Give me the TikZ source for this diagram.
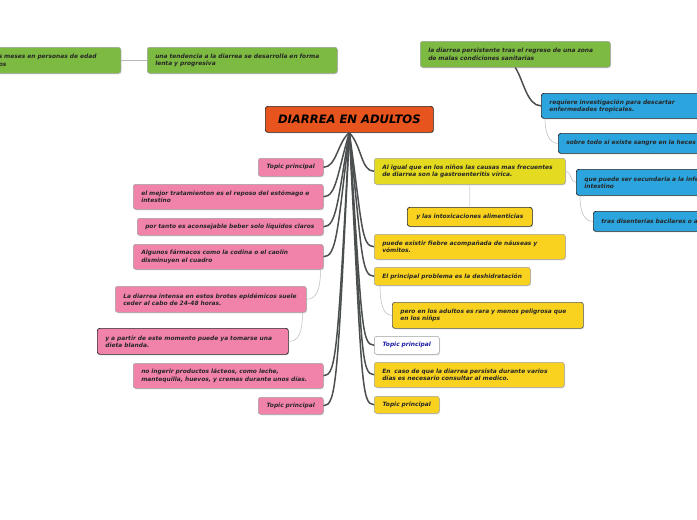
\documentclass[tikz,border=0pt]{standalone}
\usepackage{fontspec}
\newfontfamily\fnt{DejaVu Sans Bold Oblique}
\usetikzlibrary{calc,shadows}
\definecolor{naranja}{HTML}{E8541E}
\definecolor{rosa}{HTML}{F183AB}
\definecolor{amarillo}{HTML}{F8D21E}
\definecolor{limon}{HTML}{E4DA1F}
\definecolor{verde}{HTML}{7DBA41}
\definecolor{azul}{HTML}{2CA5DF}
\definecolor{gris}{HTML}{4B4F4F}
\definecolor{tinta}{HTML}{1A1AA6}

\begin{document}
\begin{tikzpicture}[x=1pt, y=-1pt,
    caja/.style={draw=gray!75, line width=0.5pt, rounded corners=2.5pt, anchor=north west,
      align=left, inner xsep=8pt, inner ysep=1pt, text=black!85,
      font=\fnt\fontsize{5.9}{7.1}\selectfont,
      drop shadow={opacity=0.25, shadow xshift=0.8pt, shadow yshift=-1pt}},
    topico/.style={align=center, inner xsep=4pt, text width=57pt},
    negra/.style={draw=black!85, line width=0.7pt},
    rama/.style={draw=gris, line width=1.5pt},
    sub/.style={draw=gray!55, line width=0.5pt}]
    % fondo
    \path[fill=white](0,0)rectangle(697,520);
    \useasboundingbox(0,0)rectangle(697,520);
    % centro
    \node[caja, negra, fill=naranja, align=center, text width=152pt, minimum height=26pt,
      font=\fnt\fontsize{11.6}{13}\selectfont, text=black](tema)at(265,106){DIARREA EN ADULTOS};
    % verdes arriba
    \node[caja, fill=verde, anchor=north east, text width=114pt, minimum height=26pt](gizq)at(121,47)
      {s meses en personas de edad\\os};
    \node[caja, fill=verde, text width=174pt, minimum height=26pt](gcen)at(147,47)
      {una tendencia a la diarrea se desarrolla en forma\\lenta y progresiva};
    \node[caja, fill=verde, text width=174pt, minimum height=26pt](gder)at(420,41)
      {la diarrea persistente tras el regreso de una zona\\de malas condiciones sanitarias};
    % azules
    \node[caja, negra, fill=azul, text width=184pt, minimum height=25pt](az1)at(541,93)
      {requiere investigación para descartar\\enfermedades tropicales.};
    \node[caja, negra, fill=azul, text width=184pt, minimum height=20pt](az2)at(558,133)
      {sobre todo si existe sangre en la heces};
    \node[caja, negra, fill=azul, text width=184pt, minimum height=26pt](az3)at(576,169)
      {que puede ser secundaria a la infe\\intestino};
    \node[caja, negra, fill=azul, text width=184pt, minimum height=20pt](az4)at(593,211)
      {tras disenterías bacilares o a};
    % amarillas
    \node[caja, fill=limon, text width=175pt, minimum height=26pt](am1)at(374,158)
      {Al igual que en los niños las causas mas frecuentes\\de diarrea son la gastroenteritis vírica.};
    \node[caja, negra, fill=amarillo, align=center, text width=109pt, minimum height=19pt](am2)at(407,207)
      {y las intoxicaciones alimenticias};
    \node[caja, fill=amarillo, text width=175pt, minimum height=25pt](am3)at(374,234)
      {puede existir fiebre acompañada de náuseas y\\vómitos.};
    \node[caja, fill=amarillo, text width=140pt, minimum height=18pt](am4)at(374,267)
      {El principal problema es la deshidratación};
    \node[caja, draw=black!65, line width=0.7pt, fill=amarillo, text width=175pt, minimum height=26pt](am5)at(392,302)
      {pero en los adultos es rara y menos peligrosa que\\en los niñps};
    \node[caja, topico, fill=white, text=tinta, minimum height=18pt](blanca)at(374,336)
      {Topic principal};
    \node[caja, fill=amarillo, text width=174pt, minimum height=25pt](am6)at(374,362)
      {En~ caso de que la diarrea persista durante varios\\días es necesario consultar al medico.};
    \node[caja, topico, fill=amarillo, minimum height=17pt](am7)at(374,396)
      {Topic principal};
    % rosas
    \node[caja, topico, fill=rosa, minimum height=18pt](ro1)at(258,158)
      {Topic principal};
    \node[caja, fill=rosa, text width=174pt, minimum height=25pt](ro2)at(133,184)
      {el mejor tratamienton es el reposo del estómago e\\intestino};
    \node[caja, fill=rosa, text width=170pt, minimum height=17pt](ro3)at(137,218)
      {por tanto es aconsejable beber solo líquidos claros};
    \node[caja, fill=rosa, text width=174pt, minimum height=25pt](ro4)at(133,244)
      {Algunos fármacos como la codina o el caolín\\disminuyen el cuadro};
    \node[caja, fill=rosa, text width=175pt, minimum height=26pt](ro5)at(115,286)
      {La diarrea intensa en estos brotes epidémicos suele\\ceder al cabo de 24-48 horas.};
    \node[caja, negra, fill=rosa, text width=175pt, minimum height=26pt](ro6)at(97,328)
      {y a partir de este momento puede ya tomarse una\\dieta blanda.};
    \node[caja, fill=rosa, text width=174pt, minimum height=25pt](ro7)at(133,363)
      {no ingerir productos lácteos, como leche,\\mantequilla, huevos, y cremas durante unos días.};
    \node[caja, topico, fill=rosa, minimum height=17pt](ro8)at(258,397)
      {Topic principal};
    % ramas del centro
    \foreach \n in {ro1,ro2,ro3,ro4,ro7,ro8}
      \path[rama](tema.south) .. controls ($(\n.east)+(14,-25)$) and ($(\n.east)+(13,0)$) .. (\n.east);
    \foreach \n in {am1,am3,am4,blanca,am6,am7}
      \path[rama](tema.south) .. controls ($(\n.west)+(-12,-25)$) and ($(\n.west)+(-13,0)$) .. (\n.west);
    % ramas secundarias
    \path[sub](gizq.east)to(gcen.west);
    \path[rama](gder.south) .. controls +(8,12) and +(-14,0) .. (az1.west);
    \path[sub]([xshift=4pt]az1.south west) .. controls +(0,16) and +(-8,0) .. (az2.west);
    \path[sub](am1.east) .. controls +(6,0) and +(-6,0) .. (az3.west);
    \path[sub]([xshift=4pt]az3.south west) .. controls +(0,18) and +(-8,0) .. (az4.west);
    \path[sub](am1.south)to(am2.north);
    \path[sub]([xshift=6pt]am4.south west) .. controls +(0,20) and +(-8,0) .. (am5.west);
    \path[sub]([xshift=-3pt]ro4.south east) .. controls +(0,20) and +(10,0) .. (ro5.east);
    \path[sub]([xshift=-4pt]ro5.south east) .. controls +(0,20) and +(10,0) .. (ro6.east);
\end{tikzpicture}
\end{document}
